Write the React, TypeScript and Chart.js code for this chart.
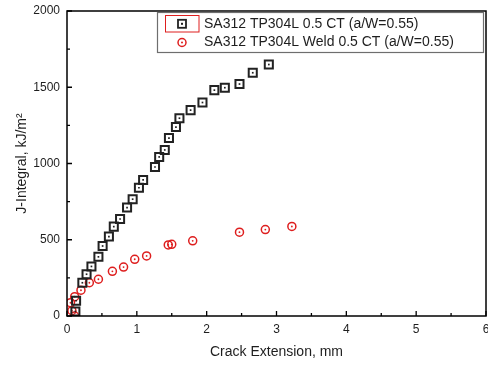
import React, { useEffect, useRef } from "react";
import { Chart, registerables } from "chart.js";

Chart.register(...registerables);

// Crack extension (mm) and J-integral (kJ/m^2), base metal
const baseX = [0.12, 0.13, 0.22, 0.28, 0.35, 0.45, 0.51, 0.6, 0.67, 0.76, 0.86, 0.94, 1.03, 1.09, 1.26, 1.32, 1.4, 1.46, 1.56, 1.61, 1.77, 1.94, 2.11, 2.26, 2.47, 2.66, 2.89];
const baseJ = [30, 100, 218, 274, 325, 388, 459, 521, 586, 636, 711, 766, 841, 892, 977, 1043, 1089, 1167, 1239, 1297, 1350, 1400, 1481, 1497, 1521, 1595, 1649];

// Weld metal
const weldX = [0.11, 0.07, 0.05, 0.11, 0.2, 0.32, 0.45, 0.65, 0.81, 0.97, 1.14, 1.45, 1.5, 1.8, 2.47, 2.84, 3.22];
const weldJ = [0, 35, 87, 127, 169, 218, 241, 293, 321, 372, 394, 466, 470, 493, 550, 567, 587];

const seriesNames = [
  "SA312 TP304L 0.5 CT (a/W=0.55)",
  "SA312 TP304L Weld 0.5 CT (a/W=0.55)",
];
const xTicks = [0, 1, 2, 3, 4, 5, 6];
const yTicks = [0, 500, 1000, 1500, 2000];
const xTitle = "Crack Extension, mm";
const yTitle = "J-Integral, kJ/m\u00B2";

const FONT = 'Arial, "Liberation Sans", sans-serif';
const RED = "rgb(222,30,30)";
const TEXT = "#1e1e1e";

const toPts = (xs: number[], ys: number[]) => xs.map((x, i) => ({ x, y: ys[i] }));

const framePlugin = {
  id: "frameAndLegend",
  afterDraw(chart: any) {
    const ctx = chart.ctx as CanvasRenderingContext2D;
    const { left, right, top, bottom } = chart.chartArea;
    const xs = chart.scales.x;
    const ys = chart.scales.y;
    ctx.save();
    // frame
    ctx.strokeStyle = "#000";
    ctx.lineWidth = 1.5;
    ctx.strokeRect(left, top, right - left, bottom - top);
    // ticks inward (major + minor halfway)
    ctx.lineWidth = 1.3;
    ctx.beginPath();
    for (let i = 0; i < xTicks.length; i++) {
      const px = xs.getPixelForValue(xTicks[i]);
      ctx.moveTo(px, bottom);
      ctx.lineTo(px, bottom - 5);
      if (i < xTicks.length - 1) {
        const pm = xs.getPixelForValue((xTicks[i] + xTicks[i + 1]) / 2);
        ctx.moveTo(pm, bottom);
        ctx.lineTo(pm, bottom - 3);
      }
    }
    for (let i = 0; i < yTicks.length; i++) {
      const py = ys.getPixelForValue(yTicks[i]);
      ctx.moveTo(left, py);
      ctx.lineTo(left + 5, py);
      if (i < yTicks.length - 1) {
        const pm = ys.getPixelForValue((yTicks[i] + yTicks[i + 1]) / 2);
        ctx.moveTo(left, pm);
        ctx.lineTo(left + 3, pm);
      }
    }
    ctx.stroke();

    // tick labels
    ctx.fillStyle = TEXT;
    ctx.font = `12px ${FONT}`;
    ctx.textAlign = "center";
    ctx.textBaseline = "middle";
    xTicks.forEach((v) => ctx.fillText(String(v), xs.getPixelForValue(v), bottom + 14));
    ctx.textAlign = "right";
    yTicks.forEach((v) => ctx.fillText(String(v), left - 7, ys.getPixelForValue(v)));

    // axis titles
    ctx.font = `14px ${FONT}`;
    ctx.textAlign = "center";
    ctx.fillText(xTitle, (left + right) / 2, 352);
    ctx.save();
    ctx.translate(22, (top + bottom) / 2);
    ctx.rotate(-Math.PI / 2);
    ctx.fillText(yTitle, 0, 0);
    ctx.restore();

    // legend
    const lx = 157.5, ly = 12.5, lw = 326, lh = 40;
    ctx.fillStyle = "#fff";
    ctx.fillRect(lx, ly, lw, lh);
    ctx.strokeStyle = "#6e6e6e";
    ctx.lineWidth = 1.2;
    ctx.strokeRect(lx, ly, lw, lh);
    // highlight box round first marker
    ctx.strokeStyle = RED;
    ctx.lineWidth = 1;
    ctx.strokeRect(165.5, 15.5, 33.5, 16.5);
    const mx = 182;
    const r1 = 23.8, r2 = 42.5;
    ctx.strokeStyle = "#222";
    ctx.lineWidth = 1.8;
    ctx.strokeRect(mx - 4, r1 - 4, 8, 8);
    ctx.fillStyle = "#222";
    ctx.fillRect(mx - 1, r1 - 1, 2, 2);
    ctx.strokeStyle = RED;
    ctx.lineWidth = 1.5;
    ctx.beginPath();
    ctx.arc(mx, r2, 4, 0, Math.PI * 2);
    ctx.stroke();
    ctx.fillStyle = RED;
    ctx.beginPath();
    ctx.arc(mx, r2, 1, 0, Math.PI * 2);
    ctx.fill();
    ctx.fillStyle = TEXT;
    ctx.font = `14px ${FONT}`;
    ctx.textAlign = "left";
    ctx.fillText(seriesNames[0], 204, r1);
    ctx.fillText(seriesNames[1], 204, r2);
    ctx.restore();
  },
};

export default function App() {
  const ref = useRef<HTMLCanvasElement | null>(null);
  useEffect(() => {
    if (!ref.current) return;
    const chart = new Chart(ref.current, {
      type: "scatter",
      data: {
        datasets: [
          {
            label: seriesNames[0],
            data: toPts(baseX, baseJ),
            pointStyle: "rect",
            pointRadius: 5.7,
            pointBorderWidth: 2,
            borderColor: "#222",
            backgroundColor: "rgba(255,255,255,0)",
          },
          {
            label: "base-dot",
            data: toPts(baseX, baseJ),
            pointStyle: "rect",
            pointRadius: 1.2,
            pointBorderWidth: 0,
            borderColor: "#222",
            backgroundColor: "#222",
          },
          {
            label: seriesNames[1],
            data: toPts(weldX, weldJ),
            pointStyle: "circle",
            pointRadius: 4,
            pointBorderWidth: 1.5,
            borderColor: RED,
            backgroundColor: "rgba(255,255,255,0)",
          },
          {
            label: "weld-dot",
            data: toPts(weldX, weldJ),
            pointStyle: "circle",
            pointRadius: 0.9,
            pointBorderWidth: 0,
            borderColor: RED,
            backgroundColor: RED,
          },
        ],
      },
      options: {
        animation: false,
        responsive: true,
        maintainAspectRatio: false,
        layout: { autoPadding: false, padding: { top: 11, right: 2, left: 0, bottom: 0 } },
        plugins: { legend: { display: false }, tooltip: { enabled: false } },
        scales: {
          x: {
            type: "linear",
            min: xTicks[0],
            max: xTicks[xTicks.length - 1],
            grid: { display: false, drawTicks: false },
            border: { display: false },
            ticks: { display: false },
            afterFit: (s: any) => {
              s.height = 49;
            },
          },
          y: {
            type: "linear",
            min: yTicks[0],
            max: yTicks[yTicks.length - 1],
            grid: { display: false, drawTicks: false },
            border: { display: false },
            ticks: { display: false },
            afterFit: (s: any) => {
              s.width = 67;
            },
          },
        },
      },
      plugins: [framePlugin],
    });
    return () => chart.destroy();
  }, []);
  return (
    <div style={{ position: "fixed", left: 0, top: 0, width: 488, height: 365, background: "#fff" }}>
      <canvas ref={ref} />
    </div>
  );
}
